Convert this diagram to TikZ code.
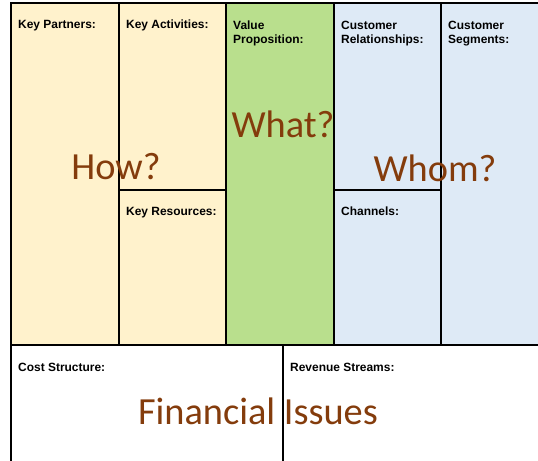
\documentclass[tikz,border=0pt]{standalone}
\usepackage{fontspec}
\setmainfont{Liberation Sans}
\newfontfamily\calibri{Carlito}
\usepackage{tikz}

\definecolor{howfill}{HTML}{FFF2CC}
\definecolor{whatfill}{HTML}{B9DF8D}
\definecolor{whomfill}{HTML}{DEEAF6}
\definecolor{issue}{HTML}{843C0C}

\begin{document}
\begin{tikzpicture}[x=1bp, y=-1bp,
		cell/.style={anchor=north west, inner sep=0pt, outer sep=0pt},
		grid/.style={draw=black, line width=1.2pt},
		celltitle/.style={anchor=base west, inner sep=0pt, align=left,
			font=\bfseries\fontsize{12}{14.5}\selectfont},
		question/.style={inner sep=0pt, text=issue, font=\calibri\fontsize{38.5}{40}\selectfont},
	]
	\useasboundingbox (0,0) rectangle (538,461);
	\clip (0,0) rectangle (538,461);

	% blocks of the canvas
	\node [cell, fill=howfill, minimum width=108bp, minimum height=342bp] (partners) at (11,3) {};
	\node [cell, fill=howfill, minimum width=107bp, minimum height=187bp] (activities) at (119,3) {};
	\node [cell, fill=howfill, minimum width=107bp, minimum height=155bp] (resources) at (119,190) {};
	\node [cell, fill=whatfill, minimum width=108bp, minimum height=342bp] (proposition) at (226,3) {};
	\node [cell, fill=whomfill, minimum width=107bp, minimum height=187bp] (relations) at (334,3) {};
	\node [cell, fill=whomfill, minimum width=107bp, minimum height=155bp] (channels) at (334,190) {};
	\node [cell, fill=whomfill, minimum width=110bp, minimum height=342bp] (segments) at (441,3) {};
	\node [cell, fill=white, minimum width=272bp, minimum height=130bp] (costs) at (11,345) {};
	\node [cell, fill=white, minimum width=268bp, minimum height=130bp] (revenues) at (283,345) {};

	\foreach \c in {partners,activities,resources,proposition,relations,channels,segments,costs,revenues}
	\draw [grid] (\c.north west) rectangle (\c.south east);

	% titles (base of the last line)
	\node [celltitle] (t-partners) at ([shift={(7,26)}]partners.north west) {Key Partners:};
	\node [celltitle] (t-activities) at ([shift={(7,26)}]activities.north west) {Key Activities:};
	\node [celltitle] (t-resources) at ([shift={(7,26)}]resources.north west) {Key Resources:};
	\node [celltitle] (t-proposition) at ([shift={(7,40.5)}]proposition.north west) {Value\\Proposition:};
	\node [celltitle] (t-relations) at ([shift={(7,40.5)}]relations.north west) {Customer\\Relationships:};
	\node [celltitle] (t-channels) at ([shift={(7,26)}]channels.north west) {Channels:};
	\node [celltitle] (t-segments) at ([shift={(7,40.5)}]segments.north west) {Customer\\Segments:};
	\node [celltitle] (t-costs) at ([shift={(7,26)}]costs.north west) {Cost Structure:};
	\node [celltitle] (t-revenues) at ([shift={(7,26)}]revenues.north west) {Revenue Streams:};

	% the questions
	\node [question] (how) at (116,167) {How?};
	\node [question] (what) at (283,124) {What?};
	\node [question] (whom) at (435,168) {Whom?};
	\node [question] (finance) at (258,411) {Financial Issues};
\end{tikzpicture}
\end{document}
